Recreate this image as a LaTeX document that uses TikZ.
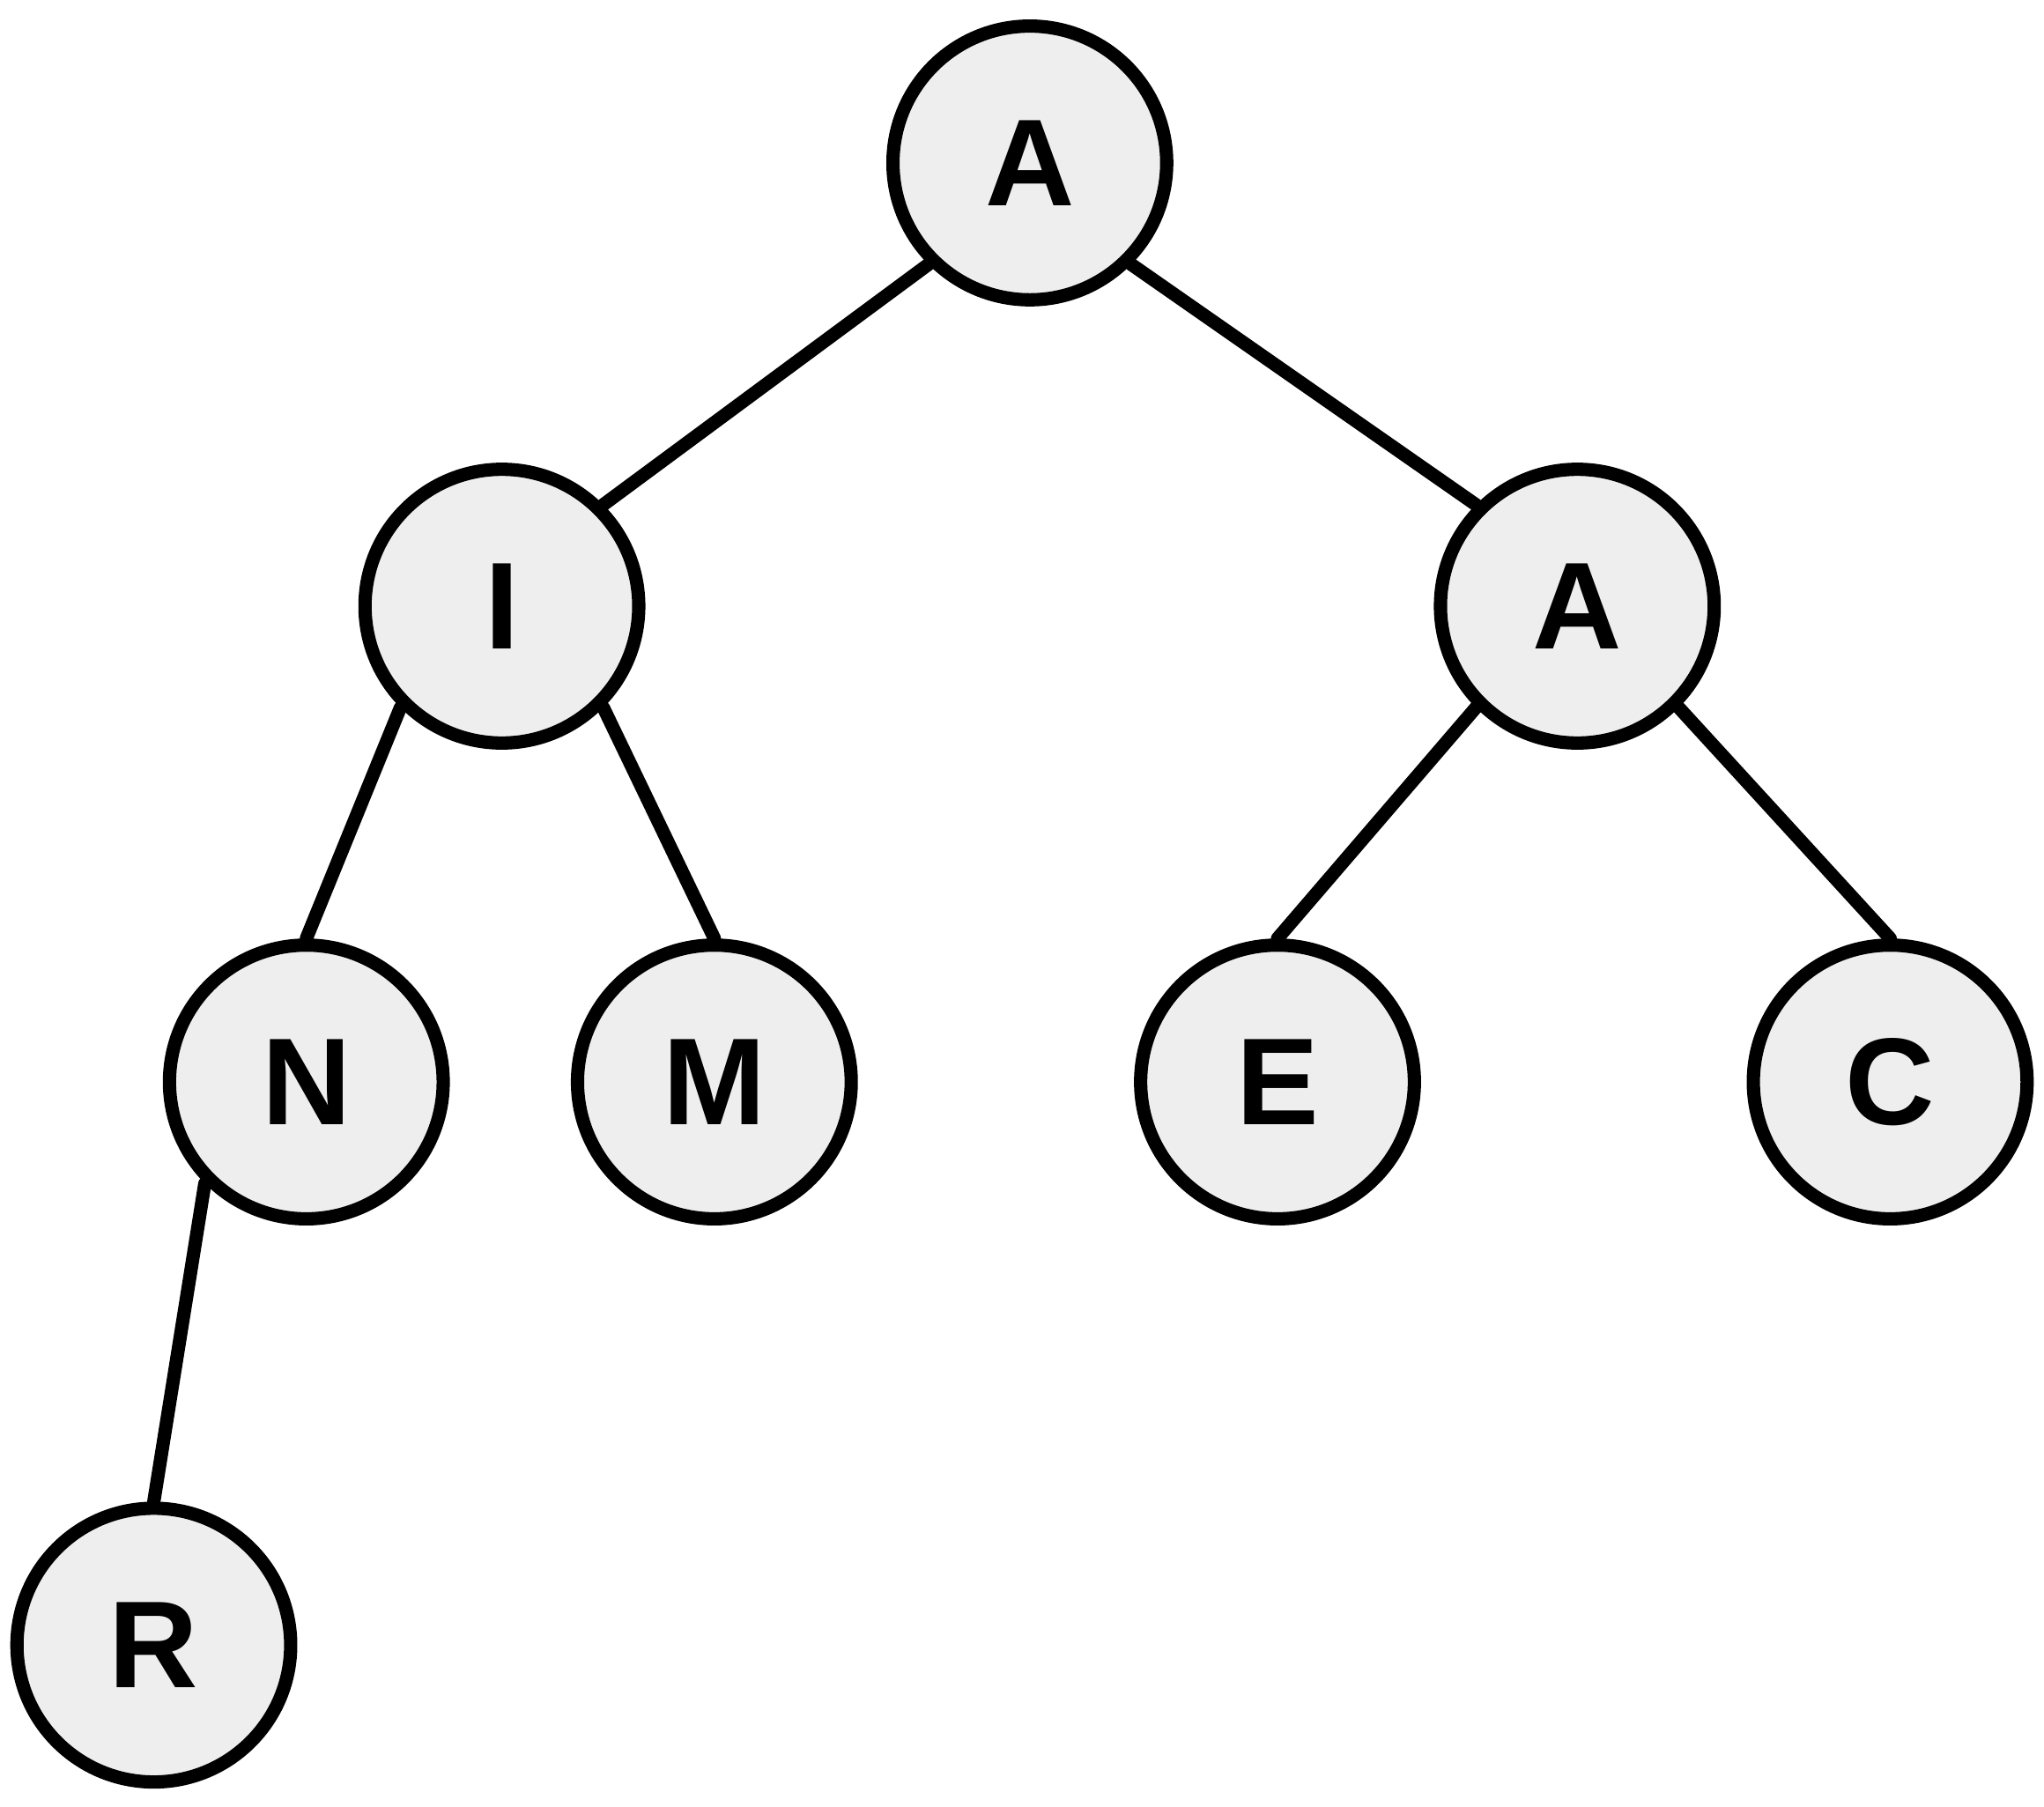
\documentclass[tikz,border=0pt]{standalone}
\usepackage{fontspec}
\setmainfont{Liberation Sans}
\usetikzlibrary{positioning}
\definecolor{nodefill}{HTML}{EEEEEE}

\begin{document}
\begin{tikzpicture}[-,line width=2.9pt,line cap=round,on grid,auto]
            \tikzstyle{treenode}=[circle,draw,fill=nodefill,minimum size=2.1cm,inner sep=0pt,
                font=\fontsize{27}{32}\selectfont\bfseries]

            \useasboundingbox (0,0) rectangle (15.68,-13.86);

            \node[treenode] (A)                                      at (7.90,-1.25) {A};
            \node[treenode] (I)  [below left=3.4cm and 4.05cm of A]   {I};
            \node[treenode] (A2) [below right=3.4cm and 4.2cm of A]   {A};
            \node[treenode] (N)  [below left=3.65cm and 1.5cm of I]   {N};
            \node[treenode] (M)  [below right=3.65cm and 1.63cm of I] {M};
            \node[treenode] (E)  [below left=3.65cm and 2.3cm of A2]  {E};
            \node[treenode] (C)  [below right=3.65cm and 2.4cm of A2] {C};
            \node[treenode] (R)  [below left=4.32cm and 1.17cm of N]  {R};

            \path (A.south west) edge (I.north east)
            (A.south east) edge (A2.north west)
            (I.south west) edge (N.north)
            (I.south east) edge (M.north)
            (A2.south west) edge (E.north)
            (A2.south east) edge (C.north)
            (N.south west) edge (R.north);

        \end{tikzpicture}
\end{document}
